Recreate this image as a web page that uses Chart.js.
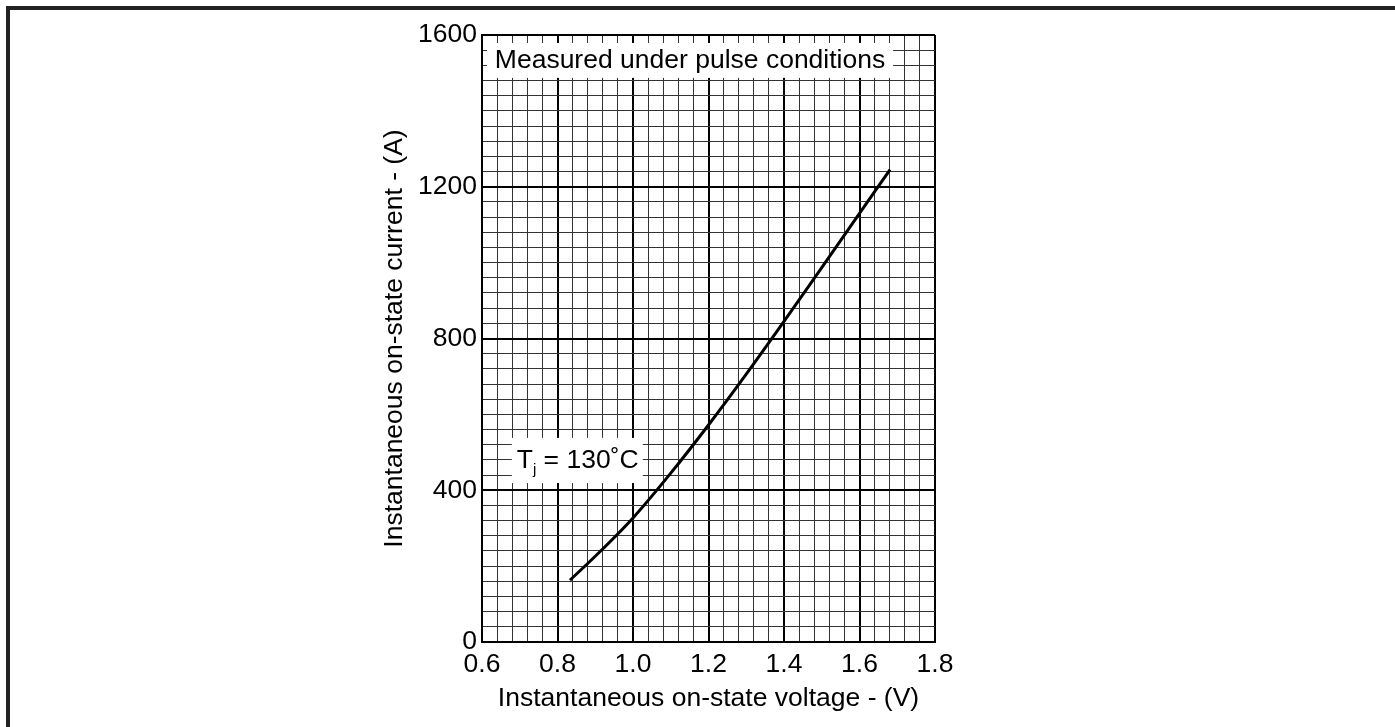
<!DOCTYPE html>
<html>
<head>
<meta charset="utf-8">
<script src="https://cdn.jsdelivr.net/npm/chart.js@4"></script>
<style>
    body { margin: 0; background: #fff; overflow: hidden; }
    #wrap { position: absolute; left: 0; top: 0; width: 1395px; height: 727px; }
    #frame { position: absolute; left: 6px; top: 6px; right: 0; bottom: 0;
             border-top: 4px solid #222; border-left: 4px solid #222; pointer-events: none; }
</style>
</head>
<body>
<div id="wrap"><canvas id="chart"></canvas></div>
<div id="frame"></div>
<script>
// On-state characteristic, Tj = 130 C
const voltage = [0.833, 0.9, 1.0, 1.1, 1.2, 1.3, 1.4, 1.5, 1.6, 1.681];
const current = [163, 226, 327, 445, 572, 706, 845, 987, 1130, 1245];

// Axis labels (major) and minor grid divisions
const xTickLabels = ['0.6', '0.8', '1.0', '1.2', '1.4', '1.6', '1.8'];
const yTickLabels = ['0', '400', '800', '1200', '1600'];
const xMinorPerMajor = 5;
const yMinorPerMajor = 10;

const fontFamily = "'Liberation Sans', Arial, sans-serif";
const fontSize = 26.5;

// Annotation boxes in data units
const notes = [
    { text: 'Measured under pulse conditions', x0: 0.613, x1: 1.689, y0: 1487, y1: 1579, tx: 0.634, ty: 1533 },
    { text: 'Tj', x0: 0.679, x1: 1.026, y0: 419, y1: 538, tx: 0.692, ty: 478 }
];

function buildTicks(labels, perMajor) {
    const first = parseFloat(labels[0]);
    const step = (parseFloat(labels[1]) - first) / perMajor;
    return function(scale) {
        const ticks = [];
        for (let i = 0; i <= (labels.length - 1) * perMajor; i++) {
            ticks.push({ value: first + i * step });
        }
        scale.ticks = ticks;
    };
}

const notesPlugin = {
    id: 'notes',
    beforeDatasetsDraw(chart) {
        const ctx = chart.ctx;
        const xs = chart.scales.x, ys = chart.scales.y;
        ctx.save();
        notes.forEach(n => {
            const l = xs.getPixelForValue(n.x0), r = xs.getPixelForValue(n.x1);
            const t = ys.getPixelForValue(n.y1), b = ys.getPixelForValue(n.y0);
            ctx.fillStyle = '#fff';
            ctx.fillRect(l, t, r - l, b - t);
            const tx = xs.getPixelForValue(n.tx), ty = ys.getPixelForValue(n.ty);
            ctx.fillStyle = '#000';
            ctx.textBaseline = 'middle';
            ctx.textAlign = 'left';
            ctx.font = fontSize + 'px ' + fontFamily;
            if (n.text === 'Tj') {
                ctx.fillText('T', tx, ty);
                const w = ctx.measureText('T').width;
                ctx.font = '15px ' + fontFamily;
                ctx.fillText('j', tx + w, ty + 9);
                const wj = ctx.measureText('j').width;
                ctx.font = fontSize + 'px ' + fontFamily;
                ctx.fillText(' = 130\u02DAC', tx + w + wj, ty);
            } else {
                ctx.fillText(n.text, tx, ty);
            }
        });
        ctx.restore();
    }
};

new Chart(document.getElementById('chart'), {
    type: 'line',
    data: {
        datasets: [{
            data: voltage.map((v, i) => ({ x: v, y: current[i] })),
            borderColor: '#000',
            borderWidth: 3,
            pointRadius: 0,
            fill: false,
            cubicInterpolationMode: 'monotone'
        }]
    },
    options: {
        responsive: true,
        maintainAspectRatio: false,
        animation: false,
        layout: { padding: { left: 375, top: 35, right: 460, bottom: 8 } },
        plugins: { legend: { display: false }, tooltip: { enabled: false } },
        scales: {
            x: {
                type: 'linear',
                min: 0.6,
                max: 1.8,
                afterBuildTicks: buildTicks(xTickLabels, xMinorPerMajor),
                afterFit: function(scale) { scale.height = 77; },
                grid: {
                    drawTicks: false,
                    color: ctx => ctx.index % xMinorPerMajor === 0 ? '#000' : '#333',
                    lineWidth: ctx => ctx.index % xMinorPerMajor === 0 ? 2 : 1
                },
                border: { color: '#000', width: 2 },
                ticks: {
                    autoSkip: false,
                    maxRotation: 0,
                    padding: 7,
                    color: '#000',
                    font: { family: fontFamily, size: fontSize },
                    callback: (v, i) => i % xMinorPerMajor === 0 ? xTickLabels[i / xMinorPerMajor] : ''
                },
                title: {
                    display: true,
                    text: 'Instantaneous on-state voltage - (V)',
                    color: '#000',
                    font: { family: fontFamily, size: fontSize }
                }
            },
            y: {
                type: 'linear',
                min: 0,
                max: 1600,
                afterBuildTicks: buildTicks(yTickLabels, yMinorPerMajor),
                afterFit: function(scale) { scale.width = 107; },
                grid: {
                    drawTicks: false,
                    color: ctx => ctx.index % yMinorPerMajor === 0 ? '#000' : '#333',
                    lineWidth: ctx => ctx.index % yMinorPerMajor === 0 ? 2 : 1
                },
                border: { color: '#000', width: 2 },
                ticks: {
                    autoSkip: false,
                    padding: 5,
                    color: '#000',
                    font: { family: fontFamily, size: fontSize },
                    callback: (v, i) => i % yMinorPerMajor === 0 ? yTickLabels[i / yMinorPerMajor] : ''
                },
                title: {
                    display: true,
                    text: 'Instantaneous on-state current - (A)',
                    color: '#000',
                    font: { family: fontFamily, size: fontSize }
                }
            }
        }
    },
    plugins: [notesPlugin]
});
</script>
</body>
</html>
